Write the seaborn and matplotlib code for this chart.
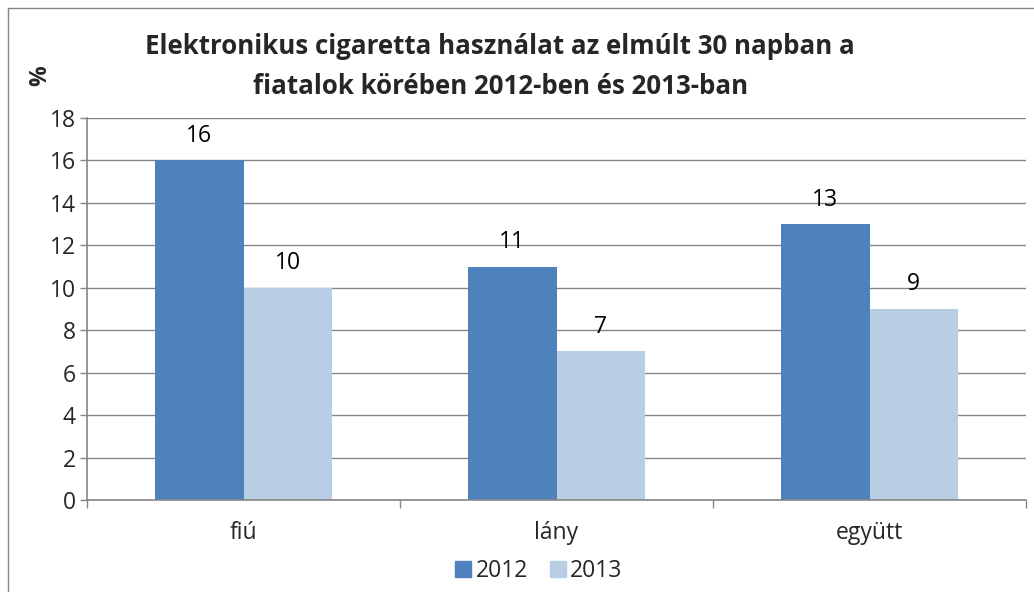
import matplotlib
matplotlib.use("Agg")
import matplotlib.pyplot as plt
import seaborn as sns
import pandas as pd
from matplotlib.lines import Line2D

categories = ["fiú", "lány", "együtt"]
years = ["2012", "2013"]
values_2012 = [16, 11, 13]
values_2013 = [10, 7, 9]
colors = ["#4F81BD", "#B9CDE5"]

df = pd.DataFrame({
    "cat": categories * 2,
    "year": [years[0]] * 3 + [years[1]] * 3,
    "val": values_2012 + values_2013,
})

sns.set_theme(style="white")
plt.rcParams['font.family'] = ['Open Sans', 'DejaVu Sans']

FS = 16.5

fig = plt.figure(figsize=(10.34, 5.92), dpi=100)
ax = fig.add_axes([87/1034, 1-500/592, (1026-87)/1034, (500-118)/592])

sns.barplot(data=df, x="cat", y="val", hue="year", palette=colors,
            width=0.565, gap=0, ax=ax, saturation=1, legend=False, linewidth=0)

for cont in ax.containers:
    ax.bar_label(cont, fmt="%d", padding=9, fontsize=FS, color="black")

ax.set_ylim(0, 18)
ax.set_xlim(-0.5, 2.5)
ax.set_yticks(range(0, 19, 2))
ax.yaxis.grid(True, color="#868686", linewidth=1)
ax.set_axisbelow(True)
ax.tick_params(axis="y", labelsize=FS, length=5, width=1, color="#868686", direction="out", left=True, pad=3)
ax.tick_params(axis="x", labelsize=FS, length=0, pad=15)
ax.set_xticks([-0.5, 0.5, 1.5, 2.5], minor=True)
ax.tick_params(axis="x", which="minor", length=6, width=1, color="#868686", bottom=True, direction="out")
ax.set_xlabel("")
ax.set_ylabel("")
for s in ["top", "right"]:
    ax.spines[s].set_visible(False)
for s in ["left", "bottom"]:
    ax.spines[s].set_color("#868686")
    ax.spines[s].set_linewidth(1.2)

fig.text(500/1034, 1-47/592, "Elektronikus cigaretta használat az elmúlt 30 napban a",
         ha="center", va="center", fontsize=18.6, fontweight="bold")
fig.text(501/1034, 1-86/592, "fiatalok körében 2012-ben és 2013-ban",
         ha="center", va="center", fontsize=18.6, fontweight="bold")
fig.text(40/1034, 1-76/592, "%", rotation=90, ha="center", va="center",
         fontsize=FS, fontweight="bold")

handles = [Line2D([0], [0], marker="s", linestyle="", markersize=12,
                  markerfacecolor=c, markeredgecolor=c) for c in colors]
fig.legend(handles, years, loc="center", bbox_to_anchor=(537/1034, 1-571/592),
           ncol=2, frameon=False, fontsize=FS, handletextpad=0.05,
           columnspacing=0.8, handlelength=1.0)

# outer chart frame (left and top edges)
fig.add_artist(Line2D([8/1034, 8/1034], [0, 1-8/592], transform=fig.transFigure,
                      color="#868686", linewidth=1))
fig.add_artist(Line2D([8/1034, 1], [1-8/592, 1-8/592], transform=fig.transFigure,
                      color="#868686", linewidth=1))

fig.savefig("out.png", dpi=100)
